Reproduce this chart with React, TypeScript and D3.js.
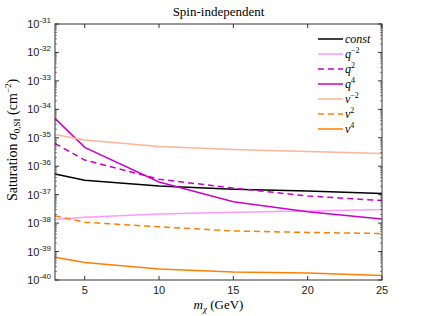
import React from 'react';
import * as d3 from 'd3';

// masses (GeV) where the curves were sampled
const masses = [3, 5, 10, 15, 20, 25];

// saturation cross sections (cm^-2)
const constVals = [5.3e-37, 3.2e-37, 2.0e-37, 1.55e-37, 1.35e-37, 1.1e-37];
const qm2Vals = [1.35e-38, 1.6e-38, 2.1e-38, 2.4e-38, 2.65e-38, 3.0e-38];
const q2Vals = [6.3e-36, 1.65e-36, 3.5e-37, 1.7e-37, 9e-38, 6.2e-38];
const q4Vals = [4.8e-35, 4.6e-36, 2.8e-37, 5.6e-38, 2.5e-38, 1.4e-38];
const vm2Vals = [1.3e-35, 8.3e-36, 4.9e-36, 3.9e-36, 3.3e-36, 2.8e-36];
const v2Vals = [1.8e-38, 1.07e-38, 7.4e-39, 5.3e-39, 4.7e-39, 4.3e-39];
const v4Vals = [6.3e-40, 4.1e-40, 2.45e-40, 1.9e-40, 1.75e-40, 1.45e-40];

const xTicks = [5, 10, 15, 20, 25];
const yExps = [-31, -32, -33, -34, -35, -36, -37, -38, -39, -40];

type Series = { base: string; sup?: string; vals: number[]; color: string; dash?: string };
const series: Series[] = [
  { base: 'const', vals: constVals, color: '#000000' },
  { base: 'q', sup: '−2', vals: qm2Vals, color: '#ff99ff' },
  { base: 'q', sup: '2', vals: q2Vals, color: '#cc00cc', dash: '6,4' },
  { base: 'q', sup: '4', vals: q4Vals, color: '#cc00cc' },
  { base: 'v', sup: '−2', vals: vm2Vals, color: '#ffb399' },
  { base: 'v', sup: '2', vals: v2Vals, color: '#ff8000', dash: '6,4' },
  { base: 'v', sup: '4', vals: v4Vals, color: '#ff8000' },
];

const W = 421;
const H = 316;
const m = { left: 55, right: 382, top: 24, bottom: 280 };
const serif = '"Liberation Serif", "DejaVu Serif", serif';
const sans = '"Liberation Sans", Arial, sans-serif';

export default function App() {
  const x = d3.scaleLinear().domain([3, 25]).range([m.left, m.right]);
  const y = d3.scaleLog().domain([1e-40, 1e-31]).range([m.bottom, m.top]);
  const line = d3
    .line<number>()
    .x((_, i) => x(masses[i]))
    .y((d) => y(d));

  const minor: number[] = [];
  for (let e = -40; e < -31; e++) {
    for (let k = 2; k <= 9; k++) minor.push(k * Math.pow(10, e));
  }

  const frame = '#333';
  return (
    <svg width={W} height={H} style={{ position: 'absolute', left: 0, top: 0, background: '#fff' }}>
      <text x={(m.left + m.right) / 2} y={16} textAnchor="middle" fontFamily={serif} fontSize={13}>
        Spin-independent
      </text>

      {series.map((s, i) => (
        <path
          key={i}
          d={line(s.vals) || ''}
          fill="none"
          stroke={s.color}
          strokeWidth={1.5}
          strokeDasharray={s.dash}
        />
      ))}

      {/* frame */}
      <rect x={m.left} y={m.top} width={m.right - m.left} height={m.bottom - m.top} fill="none" stroke={frame} strokeWidth={1} />

      {/* x ticks */}
      {xTicks.map((t) => (
        <g key={t}>
          <line x1={x(t)} x2={x(t)} y1={m.bottom} y2={m.bottom - 4} stroke={frame} />
          <line x1={x(t)} x2={x(t)} y1={m.top} y2={m.top + 4} stroke={frame} />
          <text x={x(t)} y={m.bottom + 14} textAnchor="middle" fontFamily={sans} fontSize={11} fill="#222">
            {t}
          </text>
        </g>
      ))}

      {/* y major ticks */}
      {yExps.map((e) => {
        const yy = y(Math.pow(10, e));
        return (
          <g key={e}>
            <line x1={m.left} x2={m.left + 4} y1={yy} y2={yy} stroke={frame} />
            <line x1={m.right} x2={m.right - 4} y1={yy} y2={yy} stroke={frame} />
            <text x={m.left - 4} y={yy + 4} textAnchor="end" fontFamily={sans} fontSize={11} fill="#222">
              10
              <tspan dy={-5} fontSize={8}>
                {e}
              </tspan>
            </text>
          </g>
        );
      })}
      {minor.map((v, i) => (
        <g key={'mn' + i}>
          <line x1={m.left} x2={m.left + 2} y1={y(v)} y2={y(v)} stroke={frame} strokeWidth={0.6} />
          <line x1={m.right} x2={m.right - 2} y1={y(v)} y2={y(v)} stroke={frame} strokeWidth={0.6} />
        </g>
      ))}

      {/* axis labels */}
      <text x={(m.left + m.right) / 2} y={309} textAnchor="middle" fontFamily={serif} fontSize={13}>
        <tspan fontStyle="italic">m</tspan>
        <tspan fontStyle="italic" fontSize={9} dy={3}>χ</tspan>
        <tspan dy={-3}> (GeV)</tspan>
      </text>
      <text
        transform={`translate(17,140) rotate(-90)`}
        textAnchor="middle"
        fontFamily={serif}
        fontSize={14}
      >
        Saturation <tspan fontStyle="italic">σ</tspan>
        <tspan fontSize={9} dy={3}>0,SI</tspan>
        <tspan dy={-3}> (cm</tspan>
        <tspan fontSize={9} dy={-6}>−2</tspan>
        <tspan dy={6}>)</tspan>
      </text>

      {/* legend */}
      {series.map((s, i) => {
        const ly = 39 + i * 15;
        return (
          <g key={'lg' + i}>
            <line x1={318} x2={343} y1={ly} y2={ly} stroke={s.color} strokeWidth={1.5} strokeDasharray={s.dash} />
            <text x={345} y={ly + 4} fontFamily={serif} fontSize={12} fontStyle="italic">
              {s.base}
              {s.sup && (
                <tspan fontSize={8} fontStyle="normal" dy={-5}>
                  {s.sup}
                </tspan>
              )}
            </text>
          </g>
        );
      })}
    </svg>
  );
}
